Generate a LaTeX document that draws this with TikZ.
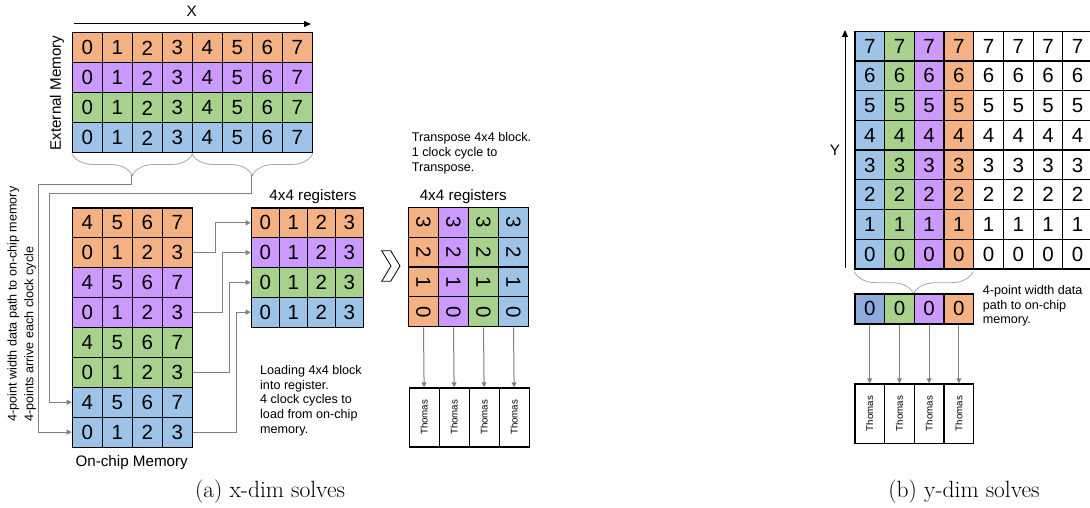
\documentclass[tikz,border=0pt]{standalone}
\usepackage{fontspec}
\usepackage{graphicx}
\newfontfamily\arial{Liberation Sans}
\usetikzlibrary{arrows.meta,decorations.pathreplacing,calc}
\definecolor{cor}{HTML}{F4B183}
\definecolor{cpu}{HTML}{CC99FF}
\definecolor{cgr}{HTML}{A9D18E}
\definecolor{cbl}{HTML}{9DC3E6}
\definecolor{cbd}{HTML}{8FAADC}
\definecolor{cgy}{HTML}{808080}
\definecolor{cbr}{HTML}{A6A6A6}
\begin{document}
\begin{tikzpicture}[x=1pt,y=-1pt,
  cell/.style={draw=black,line width=1.2pt,inner sep=0pt,anchor=north west,
    font=\arial\fontsize{20.5}{24}\selectfont},
  rcell/.style={draw=black,line width=1.2pt,inner sep=0pt,rotate=-90,
    font=\arial\fontsize{20.5}{24}\selectfont},
  thbox/.style={draw=black,line width=1.2pt,inner sep=0pt,anchor=north west,fill=white,
    font=\arial\fontsize{9.7}{11}\selectfont},
  conn/.style={draw=cgy,line width=1pt,-{Triangle[length=5pt,width=5pt]}},
  axis/.style={draw=black,line width=1pt,-{Triangle[length=7pt,width=6pt]}},
  bracestyle/.style={draw=cbr,line width=0.8pt,decorate,decoration={brace,mirror,amplitude=22pt}},
  lbl/.style={inner sep=0pt,font=\arial\fontsize{15.2}{18}\selectfont},
  note/.style={inner sep=0pt,anchor=north west,align=left,font=\arial\fontsize{12.6}{14.6}\selectfont},
  captxt/.style={inner sep=0pt,font=\fontsize{23.5}{27}\selectfont}]
\useasboundingbox (0,0) rectangle (1090,508);

% ---------- (a) external memory ----------
\foreach \r/\col in {1/cor,2/cpu,3/cgr,4/cbl}{
  \foreach \c in {0,...,7}{
    \node[cell,fill=\col,minimum width=30pt,minimum height=30pt] (em-\r-\c) at ({71.7+\c*30},{32.3+(\r-1)*30}) {\c};
  }
}
\coordinate (xs) at (74,24);
\coordinate (xe) at (311,24);
\draw[axis] (xs) -- (xe);
\node[lbl] (xl) at (191.7,11) {X};
\node[lbl,rotate=90] (eml) at (57,93) {External Memory};

% braces
\draw[bracestyle] (em-4-0.south west) -- (em-4-3.south east);
\draw[bracestyle] (em-4-4.south west) -- (em-4-7.south east);
\coordinate (bt1) at (131.7,175);
\coordinate (bt2) at (251.7,175);
\coordinate (la) at (38,184.3);
\coordinate (lb) at (49,193.3);

% ---------- on-chip memory ----------
\foreach \r/\col/\off in {1/cor/4,2/cor/0,3/cpu/4,4/cpu/0,5/cgr/4,6/cgr/0,7/cbl/4,8/cbl/0}{
  \foreach \c in {0,...,3}{
    \pgfmathtruncatemacro\v{\c+\off}
    \node[cell,fill=\col,minimum width=30pt,minimum height=29.9pt] (oc-\r-\c) at ({71.7+\c*30},{207.3+(\r-1)*29.9}) {\v};
  }
}
\node[lbl] (ocl) at (131.7,462.7) {On-chip Memory};
\draw[conn] (bt1) |- (la) |- (oc-8-0.west);
\draw[conn] (bt2) |- (lb) |- (oc-7-0.west);

\node[inner sep=0pt,rotate=90,anchor=west,font=\arial\fontsize{12.6}{14.6}\selectfont] (side1) at (13.3,422) {4-point width data path to on-chip memory};
\node[inner sep=0pt,rotate=90,anchor=west,font=\arial\fontsize{12.6}{14.6}\selectfont] (side2) at (30,422) {4-points arrive each clock cycle};

% ---------- registers ----------
\foreach \r/\col in {1/cor,2/cpu,3/cgr,4/cbl}{
  \foreach \c in {0,...,3}{
    \node[cell,fill=\col,minimum width=28pt,minimum height=29.8pt] (ra-\r-\c) at ({250.7+\c*28},{207.3+(\r-1)*29.8}) {\c};
  }
}
\node[lbl] (ral) at (313,196.5) {4x4 registers};

\coordinate (x1) at (215.7,0);
\coordinate (x2) at (222.7,0);
\coordinate (x3) at (229.3,0);
\coordinate (x4) at (236,0);
\draw[conn] (oc-2-3.east) -- (oc-2-3.east -| x1) |- (ra-1-0.west);
\draw[conn] (oc-4-3.east) -- (oc-4-3.east -| x2) |- (ra-2-0.west);
\draw[conn] (oc-6-3.east) -- (oc-6-3.east -| x3) |- (ra-3-0.west);
\draw[conn] (oc-8-3.east) -- (oc-8-3.east -| x4) |- (ra-4-0.west);

\node[note] (loadtxt) at (260,365.3) {Loading 4x4 block\\into register.\\4 clock cycles to\\load from on-chip\\memory.};

% chevron
\draw[black,line width=0.8pt,fill=white,line join=miter] (381.7,250.7) -- (390.7,250.7) -- (400,266) -- (390.7,281.3) -- (381.7,281.3) -- (391,266) -- cycle;

% ---------- transposed registers ----------
\foreach \c/\col in {1/cor,2/cpu,3/cgr,4/cbl}{
  \foreach \r in {1,...,4}{
    \pgfmathtruncatemacro\v{4-\r}
    \node[rcell,fill=\col,minimum width=29.85pt,minimum height=30pt] (tb-\r-\c) at ({423.5+(\c-1)*30},{222.2+(\r-1)*29.85}) {\v};
  }
}
\node[lbl] (tbl) at (463.3,196.5) {4x4 registers};
\node[note] (trtxt) at (411.7,132.6) {Transpose 4x4 block.\\1 clock cycle to\\Transpose.};

\foreach \c in {1,...,4}{
  \node[thbox,minimum width=30pt,minimum height=59pt] (tha-\c) at ({408.5+(\c-1)*30},387.3) {\rotatebox{90}{Thomas}};
  \draw[conn] (tb-4-\c.east) -- (tha-\c.north);
}

\node[captxt] (capa) at (270,492) {(a) x-dim solves};

% ---------- (b) y-dim ----------
\foreach \r in {1,...,8}{
  \foreach \c/\col in {1/cbl,2/cgr,3/cpu,4/cor,5/white,6/white,7/white,8/white}{
    \pgfmathtruncatemacro\v{8-\r}
    \node[cell,fill=\col,minimum width=29.7pt,minimum height=29.7pt] (yg-\r-\c) at ({854.3+(\c-1)*29.7},{30.7+(\r-1)*29.7}) {\v};
  }
}
\coordinate (ys) at (845,268.3);
\coordinate (ye) at (845,30);
\draw[axis] (ys) -- (ye);
\node[lbl] (yl) at (835,150) {Y};

\draw[bracestyle] (854.3,271.7) -- (973.1,271.7);

\foreach \c/\col in {1/cbd,2/cgr,3/cpu,4/cor}{
  \node[cell,fill=\col,minimum width=29.7pt,minimum height=30pt] (sr-\c) at ({854.3+(\c-1)*29.7},293.3) {0};
  \node[thbox,minimum width=29.7pt,minimum height=59.4pt] (thb-\c) at ({854.3+(\c-1)*29.7},383.3) {\rotatebox{90}{Thomas}};
  \draw[conn] (sr-\c.south) -- (thb-\c.north);
}
\node[note] (ytxt) at (982.7,285.3) {4-point width data\\path to on-chip\\memory.};

\node[captxt] (capb) at (964,492) {(b) y-dim solves};
\end{tikzpicture}
\end{document}
